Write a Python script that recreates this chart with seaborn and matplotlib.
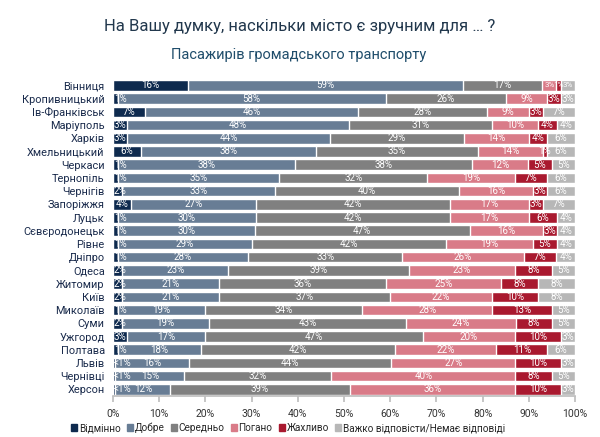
import numpy as np
import pandas as pd
import matplotlib
matplotlib.use('Agg')
import matplotlib.pyplot as plt
from matplotlib.patches import Patch
import seaborn as sns

sns.set_theme(style='white')
plt.rcParams['font.family'] = ['Roboto', 'DejaVu Sans']

# DATA
cities = ['Вінниця', 'Кропивницький', 'Ів-Франківськ', 'Маріуполь', 'Харків',
          'Хмельницький', 'Черкаси', 'Тернопіль', 'Чернігів', 'Запоріжжя',
          'Луцьк', 'Сєвєродонецьк', 'Рівне', 'Дніпро', 'Одеса', 'Житомир',
          'Київ', 'Миколаїв', 'Суми', 'Ужгород', 'Полтава', 'Львів',
          'Чернівці', 'Херсон']
categories = ['Відмінно', 'Добре', 'Середньо', 'Погано', 'Жахливо',
              'Важко відповісти/Немає відповіді']
# 0.5 stands for "<1%"
excellent = [16, 1, 7, 3, 3, 6, 1, 1, 2, 4, 1, 1, 1, 1, 2, 2, 2, 1, 2, 3, 1, 0.5, 0.5, 0.5]
good      = [59, 58, 46, 48, 44, 38, 38, 35, 33, 27, 30, 30, 29, 28, 23, 21, 21, 19, 19, 17, 18, 16, 15, 12]
average   = [17, 26, 28, 31, 29, 35, 38, 32, 40, 42, 42, 47, 42, 33, 39, 36, 37, 34, 43, 47, 42, 44, 32, 39]
bad       = [3, 9, 9, 10, 14, 14, 12, 19, 16, 17, 17, 16, 19, 26, 23, 25, 22, 28, 24, 20, 22, 27, 40, 36]
awful     = [1, 3, 3, 4, 4, 1, 5, 7, 3, 3, 6, 3, 5, 7, 8, 8, 10, 13, 8, 10, 11, 10, 8, 10]
no_answer = [3, 3, 7, 4, 6, 6, 5, 6, 6, 7, 4, 4, 4, 4, 5, 8, 8, 5, 5, 3, 6, 3, 5, 3]
colors = ['#0e2a4e', '#687d95', '#808080', '#d97b88', '#a9192f', '#b7b7b7']

df = pd.DataFrame({'city': cities, categories[0]: excellent, categories[1]: good,
                   categories[2]: average, categories[3]: bad, categories[4]: awful,
                   categories[5]: no_answer})
vals = df[categories].to_numpy(dtype=float)
share = vals / vals.sum(axis=1, keepdims=True) * 100
cum = np.cumsum(share, axis=1)

fig = plt.figure(figsize=(6, 4.37), dpi=100)
ax = fig.add_axes([0.1883, 0.0938, 0.77, 0.726])

# stacked bars: draw cumulative totals from the widest down
for k in range(len(categories) - 1, -1, -1):
    sns.barplot(x=cum[:, k], y=df['city'], color=colors[k], orient='h',
                width=0.8, saturation=1, ax=ax)

# segment labels
for i in range(len(cities)):
    for k in range(len(categories)):
        v = vals[i, k]
        txt = '<1%' if v < 1 else f'{int(v)}%'
        start = cum[i, k] - share[i, k]
        fs = 5.8 if (k >= 3 and v <= 3 and i == 0) else 7
        if k == 0 and v < 3:
            ax.text(0.2, i, txt, ha='left', va='center', color='white', fontsize=fs)
        else:
            ax.text(start + share[i, k] / 2, i, txt, ha='center', va='center',
                    color='white', fontsize=fs)

ax.set_xlim(0, 100)
ax.set_xticks(np.arange(0, 101, 10))
ax.set_xticklabels([f'{t}%' for t in range(0, 101, 10)], fontsize=7.5, color='#333333')
ax.tick_params(axis='x', length=4, color='#bfbfbf', pad=5, bottom=True)
ax.tick_params(axis='y', length=0, pad=6)
for lab in ax.get_yticklabels():
    lab.set_fontsize(7.9)
    lab.set_color('#1a2b4c')
ax.set_xlabel('')
ax.set_ylabel('')
for s in ['top', 'right', 'left']:
    ax.spines[s].set_visible(False)
ax.spines['bottom'].set_color('#bfbfbf')

fig.text(0.5, 0.94, 'На Вашу думку, наскільки місто є зручним для … ?',
         ha='center', va='center', fontsize=12, color='#22384d')
fig.text(0.497, 0.873, 'Пасажирів громадського транспорту',
         ha='center', va='center', fontsize=10.5, color='#1f4d6b')

handles = [Patch(color=c, label=l) for c, l in zip(colors, categories)]
fig.legend(handles=handles, loc='center', bbox_to_anchor=(0.48, 0.021), ncol=6,
           frameon=False, fontsize=7.2, handlelength=0.6, handleheight=0.6,
           handletextpad=0.2, columnspacing=0.6)

fig.savefig('out.png', dpi=100)
